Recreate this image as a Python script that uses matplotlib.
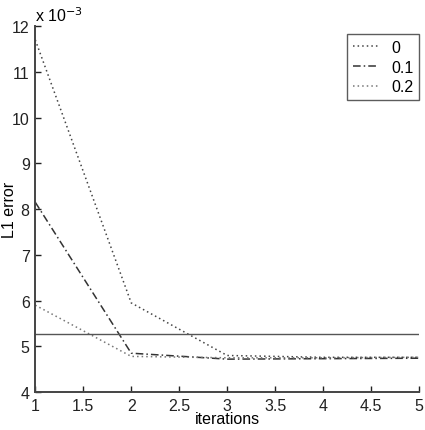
import matplotlib
matplotlib.use("Agg")
import matplotlib.pyplot as plt

# Data (L1 error, in units of 1e-3)
iterations = [1, 2, 3, 4, 5]
err_0 = [11.7, 5.95, 4.8, 4.76, 4.76]
err_01 = [8.15, 4.85, 4.72, 4.73, 4.74]
err_02 = [5.9, 4.78, 4.75, 4.75, 4.76]
baseline = [5.28, 5.28, 5.28, 5.28, 5.28]
labels = ["0", "0.1", "0.2"]

plt.rcParams["font.family"] = ["Liberation Sans", "DejaVu Sans"]

fig = plt.figure(figsize=(4.25, 4.31), dpi=100)
ax = fig.add_axes([0.083, 0.088, 0.903, 0.849])

ax.plot(iterations, err_0, linestyle=(0, (1, 2)), color="#444444", lw=1.1, label=labels[0])
ax.plot(iterations, err_01, linestyle=(0, (5, 2, 1, 2)), color="#333333", lw=1.1, label=labels[1])
ax.plot(iterations, err_02, linestyle=(0, (1, 2)), color="#777777", lw=1.1, label=labels[2])
ax.plot(iterations, baseline, linestyle="-", color="#555555", lw=1.0)

ax.set_xlim(1, 5)
ax.set_ylim(4, 12)
ax.set_xticks([1, 1.5, 2, 2.5, 3, 3.5, 4, 4.5, 5])
ax.set_xticklabels(["1", "1.5", "2", "2.5", "3", "3.5", "4", "4.5", "5"])
ax.set_yticks(range(4, 13))

for side in ["top", "right"]:
    ax.spines[side].set_visible(False)
for side in ["left", "bottom"]:
    ax.spines[side].set_linewidth(1.4)
    ax.spines[side].set_color("#444444")

ax.tick_params(direction="in", length=4, width=1, labelsize=11.5, colors="#222222", pad=4)

ax.set_xlabel("iterations", fontsize=11.5, labelpad=-1)
ax.set_ylabel("L1 error", fontsize=11.5)
ax.yaxis.set_label_coords(-0.048, 0.5)
ax.text(0.0, 1.005, "x 10$^{-3}$", transform=ax.transAxes, fontsize=11.5, ha="left", va="bottom")

leg = ax.legend(loc="upper right", bbox_to_anchor=(1.0, 0.978), fontsize=11.5, frameon=True,
                fancybox=False, handlelength=1.6, borderpad=0.35, labelspacing=0.3,
                handletextpad=0.8, borderaxespad=0.0)
leg.get_frame().set_edgecolor("#333333")
leg.get_frame().set_linewidth(1.0)

fig.savefig("out.png", dpi=100)
